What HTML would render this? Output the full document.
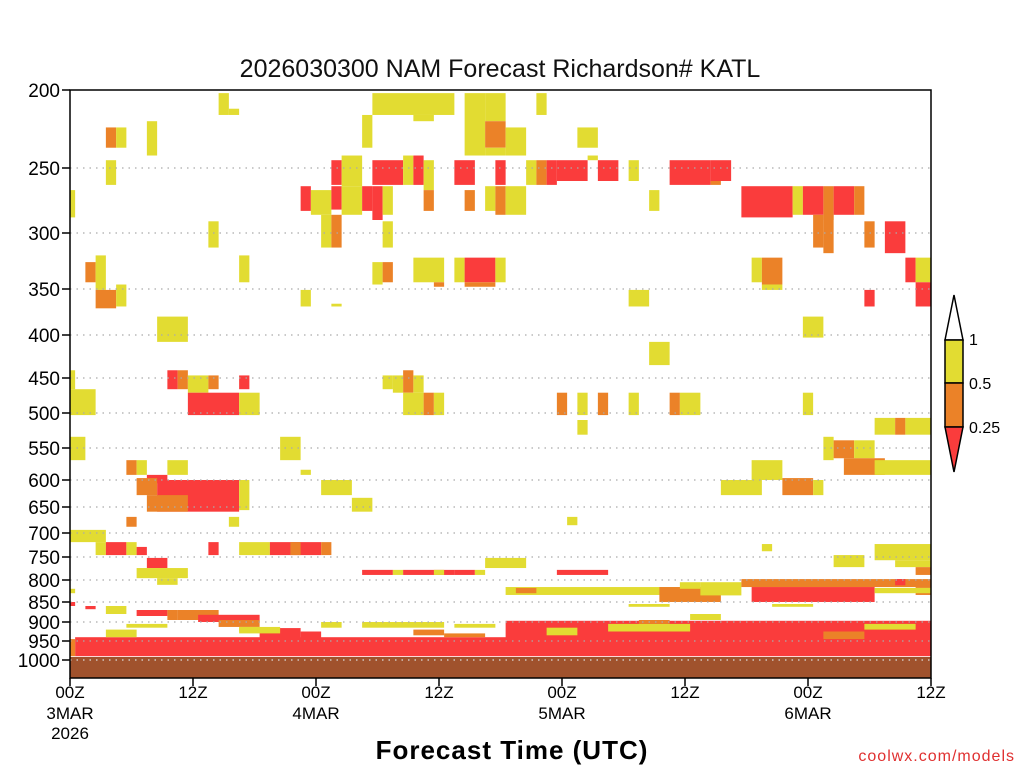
<!DOCTYPE html>
<html><head><meta charset="utf-8"><style>
html,body{margin:0;padding:0;background:#fff;width:1024px;height:768px;overflow:hidden}
svg{display:block}
text{font-family:"Liberation Sans",sans-serif}
</style></head><body>
<svg id="chart" width="1024" height="768" xmlns="http://www.w3.org/2000/svg">
<text x="500" y="77" font-size="25" text-anchor="middle" fill="#111">2026030300 NAM Forecast Richardson# KATL</text>
<g id="cells"></g>
<g id="axes"></g>
<text x="512" y="759" font-size="26" font-weight="bold" text-anchor="middle" fill="#000" letter-spacing="1">Forecast Time (UTC)</text>
<text x="1015" y="761" font-size="16" text-anchor="end" fill="#e03030" letter-spacing="1">coolwx.com/models</text>
<g stroke="#000" stroke-width="1.5">
<polygon points="945,340 954,295 963,340" fill="#fff"/>
<rect x="945" y="340" width="18" height="43" fill="#e2dc32"/>
<rect x="945" y="383" width="18" height="44" fill="#eb8228"/>
<polygon points="945,427 963,427 954,472" fill="#fa3c3c"/>
</g>
<g font-size="16" fill="#000">
<text x="969" y="345">1</text>
<text x="969" y="389">0.5</text>
<text x="969" y="433">0.25</text>
</g>
</svg>
<script>
const pressureTicks=[200,250,300,350,400,450,500,550,600,650,700,750,800,850,900,950,1000];
const xTickHours=[0,12,24,36,48,60,72,84];
const xTickLabels=["00Z","12Z","00Z","12Z","00Z","12Z","00Z","12Z"];
const xDateLabels=["3MAR","","4MAR","","5MAR","","6MAR",""];
const catColors=["#fa3c3c","#eb8228","#e2dc32"];
// cells: [hourStart, hourEnd, pTop, pBottom, category(0:<0.25,1:0.25-0.5,2:0.5-1)]
const cellStart=[],cellEnd=[],cellTop=[],cellBot=[],cellCat=[];
const cells=[
[29.5,37.5,202,216,2],[33.5,35.5,216,220,2],[38.5,40.5,202,242,2],[40.5,42.5,202,220,2],[40.5,42.5,220,237,1],[40.5,42.5,237,242,2],[42.5,44.5,224,242,2],
[14.5,15.5,202,216,2],[15.5,16.5,212,216,2],[45.5,46.5,202,216,2],
[3.5,4.5,224,237,1],[4.5,5.5,224,237,2],[3.5,4.5,245,263,2],[7.5,8.5,220,242,2],[28.5,29.5,216,237,2],[49.5,51.5,224,237,2],
[25.5,26.5,245,263,0],[26.5,28.5,242,264,2],[29.5,32.5,245,263,0],[32.5,33.5,242,263,2],[33.5,34.5,242,263,0],[34.5,35.5,245,267,2],[37.5,39.5,245,263,0],[41.5,42.5,245,263,0],[44.5,45.5,245,263,2],[45.5,46.5,245,263,1],[46.5,47.5,245,263,0],[47.5,50.5,245,260,0],[50.5,51.5,242,245,2],[51.5,53.5,245,260,0],[54.5,55.5,245,260,2],[58.5,62.5,245,263,0],[62.5,63.5,260,263,1],[62.5,64.5,245,260,0],
[22.5,23.5,264,283,0],[23.5,25.5,267,286,2],[25.5,26.5,264,282,0],[26.5,28.5,264,286,2],[28.5,29.5,264,283,0],[29.5,30.5,264,290,0],[30.5,31.5,264,286,2],[34.5,35.5,267,283,1],[38.5,39.5,267,283,1],[40.5,41.5,264,283,2],[41.5,42.5,264,286,1],[42.5,44.5,264,286,2],[56.5,57.5,267,283,2],[65.5,70.5,264,288,0],[70.5,71.5,264,286,2],[71.5,73.5,264,286,0],[73.5,74.5,264,290,1],[74.5,76.5,264,286,0],[76.5,77.5,264,286,1],[0,0.5,267,288,2],
[13.5,14.5,291,313,2],[24.5,25.5,286,313,2],[25.5,26.5,286,313,1],[30.5,31.5,291,313,2],[72.5,73.5,286,313,1],[73.5,74.5,286,318,1],[77.5,78.5,291,313,1],[79.5,81.5,291,318,0],
[1.5,2.5,326,344,1],[2.5,3.5,320,351,2],[16.5,17.5,320,344,2],[29.5,30.5,326,346,2],[30.5,31.5,326,344,1],[33.5,36.5,322,344,2],[35.5,36.5,344,348,1],[37.5,38.5,322,344,2],[38.5,41.5,322,344,0],[38.5,41.5,344,348,1],[41.5,42.5,322,344,2],[66.5,67.5,322,344,2],[67.5,69.5,322,346,1],[67.5,69.5,346,351,2],[81.5,82.5,322,344,0],[82.5,84,322,344,2],[82.5,84,344,369,0],
[2.5,4.5,351,371,1],[4.5,5.5,346,369,2],[22.5,23.5,351,369,2],[54.5,56.5,351,369,2],[77.5,78.5,351,369,0],[25.5,26.5,366,369,2],
[8.5,11.5,380,408,2],[71.5,73.5,380,403,2],[56.5,58.5,408,435,2],
[0,0.5,441,466,2],[9.5,10.5,441,466,0],[10.5,11.5,441,466,1],[11.5,13.5,447,471,2],[13.5,14.5,447,466,1],[16.5,17.5,447,466,0],[30.5,31.5,447,466,2],[31.5,32.5,447,471,2],[32.5,33.5,441,471,1],[33.5,34.5,447,471,2],
[0,2.5,466,503,2],[11.5,16.5,471,503,0],[16.5,18.5,471,503,2],[32.5,34.5,471,503,2],[34.5,35.5,471,503,1],[35.5,36.5,471,503,2],[47.5,48.5,471,503,1],[49.5,50.5,471,503,2],[51.5,52.5,471,503,1],[54.5,55.5,471,503,2],[58.5,59.5,471,503,1],[59.5,61.5,471,503,2],[71.5,72.5,471,503,2],[78.5,80.5,507,531,2],[80.5,81.5,507,531,1],[81.5,84,507,531,2],[49.5,50.5,510,531,2],
[0,1.5,534,569,2],[20.5,22.5,534,569,2],[22.5,23.5,584,592,2],[73.5,74.5,534,569,2],[74.5,76.5,539,566,1],[76.5,78.5,539,566,2],[75.5,79.5,566,592,1],[78.5,84,569,592,2],
[5.5,6.5,569,592,1],[6.5,7.5,569,592,2],[9.5,11.5,569,592,2],[7.5,9.5,592,606,0],[8.5,16.5,600,659,0],[6.5,8.5,597,628,1],[7.5,11.5,628,659,1],[16.5,17.5,600,656,2],[24.5,27.5,600,628,2],[27.5,29.5,633,659,2],[66.5,69.5,569,600,2],[63.5,67.5,600,628,2],[69.5,72.5,597,628,1],[72.5,73.5,600,628,2],
[5.5,6.5,669,688,1],[15.5,16.5,669,688,2],[0,3.5,694,719,2],[2.5,3.5,719,746,2],[48.5,49.5,669,685,2],
[3.5,5.5,719,746,0],[5.5,6.5,719,746,2],[6.5,7.5,729,746,0],[13.5,14.5,719,746,0],[16.5,19.5,719,746,2],[19.5,24.5,719,746,0],[21.5,22.5,719,746,1],[24.5,25.5,719,746,1],[40.5,44.5,752,774,2],[7.5,9.5,752,774,0],
[6.5,11.5,774,796,2],[8.5,10.5,796,811,2],[28.5,31.5,778,789,0],[31.5,32.5,778,789,2],[32.5,37.5,778,789,0],[35.5,36.5,778,789,2],[37.5,39.5,778,789,0],[39.5,40.5,778,789,2],[47.5,52.5,778,789,0],
[67.5,68.5,723,738,2],[74.5,77.5,746,772,2],[78.5,84,723,757,2],[80.5,84,757,772,2],[82.5,84,772,789,1],
[42.5,63.5,816,834,2],[43.5,45.5,818,830,1],[57.5,63.5,816,850,1],[59.5,61.5,805,820,2],[61.5,65.5,805,835,2],
[65.5,84,798,816,1],[66.5,78.5,816,850,0],[80.5,81.5,798,812,0],[82.5,84,816,834,1],[78.5,84,818,830,2],
[54.5,58.5,855,862,2],[68.5,72.5,855,862,2],
[0,0.5,850,860,0],[1.5,2.5,860,868,0],[3.5,5.5,860,880,2],[0,0.5,820,830,2],
[0.5,84,940,990,0],[0,0.5,945,990,1],
[42.5,84,897,950,0],[52.5,60.5,905,925,2],[46.5,49.5,915,935,2],[73.5,77.5,925,945,1],[60.5,63.5,880,895,2],[55.5,58.5,895,905,1],[77.5,82.5,905,920,2],
[6.5,9.5,870,885,0],[9.5,10.5,870,895,1],[10.5,14.5,870,895,1],[12.5,18.5,882,900,0],[14.5,18.5,895,913,1],[18.5,22.5,916,955,0],[22.5,24.5,925,945,0],[3.5,6.5,920,940,2],[5.5,9.5,905,915,2],[16.5,18.5,915,925,2],[24.5,26.5,900,915,2],[28.5,36.5,900,915,2],[33.5,36.5,920,935,1],[36.5,40.5,930,940,1],[37.5,41.5,905,915,2],[16.5,20.5,913,930,2]
];
cells.forEach(c=>{cellStart.push(c[0]);cellEnd.push(c[1]);cellTop.push(c[2]);cellBot.push(c[3]);cellCat.push(c[4]);});

const X0=70,X1=931,Y0=90,Y1=678;
const tickY=[90,168,233,289,335,378,413,448,480,507,533,557,580,602,622,641,660];
function xScale(h){return X0+(X1-X0)*h/84;}
function yScale(p){
  if(p<=pressureTicks[0])return tickY[0];
  for(let i=0;i<pressureTicks.length-1;i++){
    if(p<=pressureTicks[i+1]){const f=(p-pressureTicks[i])/(pressureTicks[i+1]-pressureTicks[i]);return tickY[i]+f*(tickY[i+1]-tickY[i]);}
  }
  return Math.min(Y1,660+(p-1000)*0.38);
}
const NS="http://www.w3.org/2000/svg";
function mk(tag,attrs,parent){const e=document.createElementNS(NS,tag);for(const k in attrs)e.setAttribute(k,attrs[k]);parent.appendChild(e);return e;}
const cg=document.getElementById('cells');
for(let i=0;i<cellStart.length;i++){
  const x=xScale(cellStart[i]),w=xScale(cellEnd[i])-x,y=yScale(cellTop[i]),h=yScale(cellBot[i])-y;
  const r=mk('rect',{x:x,y:y,width:w,height:h,fill:catColors[cellCat[i]]},cg);
  
  
}
const gnd=mk('rect',{x:X0,y:657,width:X1-X0,height:Y1-657,fill:"#a0522d"},cg);


const ax=document.getElementById('axes');
pressureTicks.forEach((p,i)=>{
  const y=yScale(p);
  if(i>0){const g=mk('line',{x1:X0,x2:X1,y1:y,y2:y,stroke:i==16?"#ddd":"#aaa","stroke-width":1.3,"stroke-dasharray":"1.5,5"},ax);
  
  }
  const t=mk('line',{x1:X0-8,x2:X0,y1:y,y2:y,stroke:"#000","stroke-width":1.5},ax);
  
  
  const l=mk('text',{x:X0-10,y:y+7,"font-size":19,"text-anchor":"end",fill:"#000"},ax);
  l.textContent=p;
  
  
});
xTickHours.forEach((h,i)=>{
  const x=xScale(h);
  const t=mk('line',{x1:x,x2:x,y1:Y1,y2:Y1+8,stroke:"#000","stroke-width":1.5},ax);
  
  
  const l=mk('text',{x:x,y:698,"font-size":17,"text-anchor":"middle",fill:"#000"},ax);
  l.textContent=xTickLabels[i];
  
  
  if(xDateLabels[i]){const d=mk('text',{x:x,y:719,"font-size":17,"text-anchor":"middle",fill:"#000"},ax);
  d.textContent=xDateLabels[i];
  
  }
});
const yr=mk('text',{x:xScale(0),y:739,"font-size":17,"text-anchor":"middle",fill:"#000"},ax);
yr.textContent="2026";


const fr=mk('rect',{x:X0,y:Y0,width:X1-X0,height:Y1-Y0,fill:"none",stroke:"#000","stroke-width":1.5},ax);


</script>
</body></html>
